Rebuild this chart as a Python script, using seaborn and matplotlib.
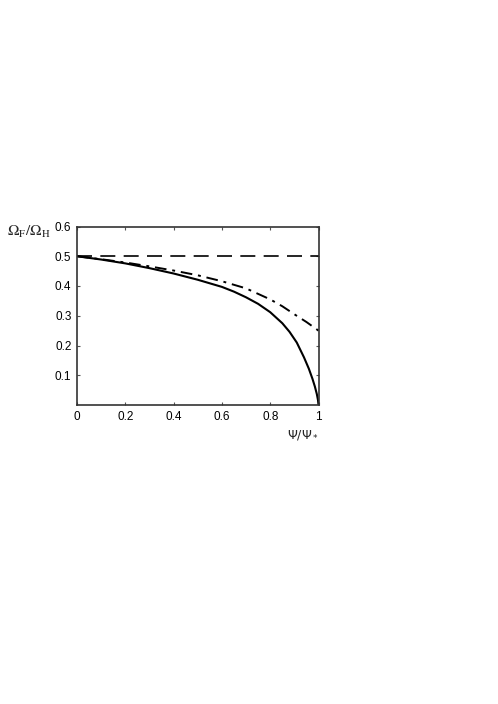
import matplotlib
matplotlib.use("Agg")
import matplotlib.pyplot as plt
import seaborn as sns
import pandas as pd

# Data
psi_solid = [0.0, 0.1, 0.2, 0.3, 0.4, 0.5, 0.6, 0.65, 0.7, 0.75, 0.8, 0.85, 0.88, 0.91,
             0.94, 0.96, 0.975, 0.985, 0.993, 0.998, 1.0]
omega_solid = [0.5, 0.489, 0.476, 0.46, 0.442, 0.421, 0.397, 0.381, 0.362, 0.34, 0.312,
               0.275, 0.246, 0.21, 0.16, 0.122, 0.088, 0.062, 0.037, 0.016, 0.0]

psi_dashdot = [0.0, 0.1, 0.2, 0.3, 0.4, 0.5, 0.6, 0.7, 0.8, 0.85, 0.9, 0.95, 1.0]
omega_dashdot = [0.5, 0.49, 0.479, 0.466, 0.452, 0.436, 0.416, 0.392, 0.355, 0.332, 0.305, 0.279, 0.25]

psi_dashed = [0.0, 1.0]
omega_dashed = [0.5, 0.5]

xticks = [0, 0.2, 0.4, 0.6, 0.8, 1]
xticklabels = ["0", "0.2", "0.4", "0.6", "0.8", "1"]
yticks = [0.1, 0.2, 0.3, 0.4, 0.5, 0.6]
yticklabels = ["0.1", "0.2", "0.3", "0.4", "0.5", "0.6"]

sns.set_style("ticks")
plt.rcParams['font.family'] = ['Liberation Sans', 'DejaVu Sans']

fig = plt.figure(figsize=(4.98, 7.04), dpi=100)
ax = fig.add_axes([77/498, 1-405/704, (318.5-77)/498, (405-226.5)/704])

df_s = pd.DataFrame({"psi": psi_solid, "omega": omega_solid})
df_d = pd.DataFrame({"psi": psi_dashdot, "omega": omega_dashdot})
df_h = pd.DataFrame({"psi": psi_dashed, "omega": omega_dashed})

sns.lineplot(data=df_h, x="psi", y="omega", ax=ax, color="black", lw=1.2,
             linestyle=(0, (9, 5)))
sns.lineplot(data=df_d, x="psi", y="omega", ax=ax, color="black", lw=1.4,
             linestyle=(0, (6, 3, 1.5, 3)))
sns.lineplot(data=df_s, x="psi", y="omega", ax=ax, color="black", lw=1.5)

ax.set_xlim(0, 1)
ax.set_ylim(0, 0.6)
ax.set_xticks(xticks)
ax.set_xticklabels(xticklabels)
ax.set_yticks(yticks)
ax.set_yticklabels(yticklabels)
ax.set_xlabel("")
ax.set_ylabel("")
ax.tick_params(direction="in", length=2.5, width=0.8, labelsize=8.5,
               top=True, right=True, colors="#555555", labelcolor="black", pad=4)
for sp in ax.spines.values():
    sp.set_visible(True)
    sp.set_linewidth(1.2)
    sp.set_color("#333333")

fig.text(7/498, 1-236/704, r"$\Omega_{\rm F}/\Omega_{\rm H}$", fontsize=11,
         math_fontfamily="stix", ha="left", va="baseline")
fig.text(303/498, 1-435/704, r"$\Psi/\Psi_*$", fontsize=9,
         math_fontfamily="dejavusans", ha="center", va="center")

fig.savefig("out.png", dpi=100)
